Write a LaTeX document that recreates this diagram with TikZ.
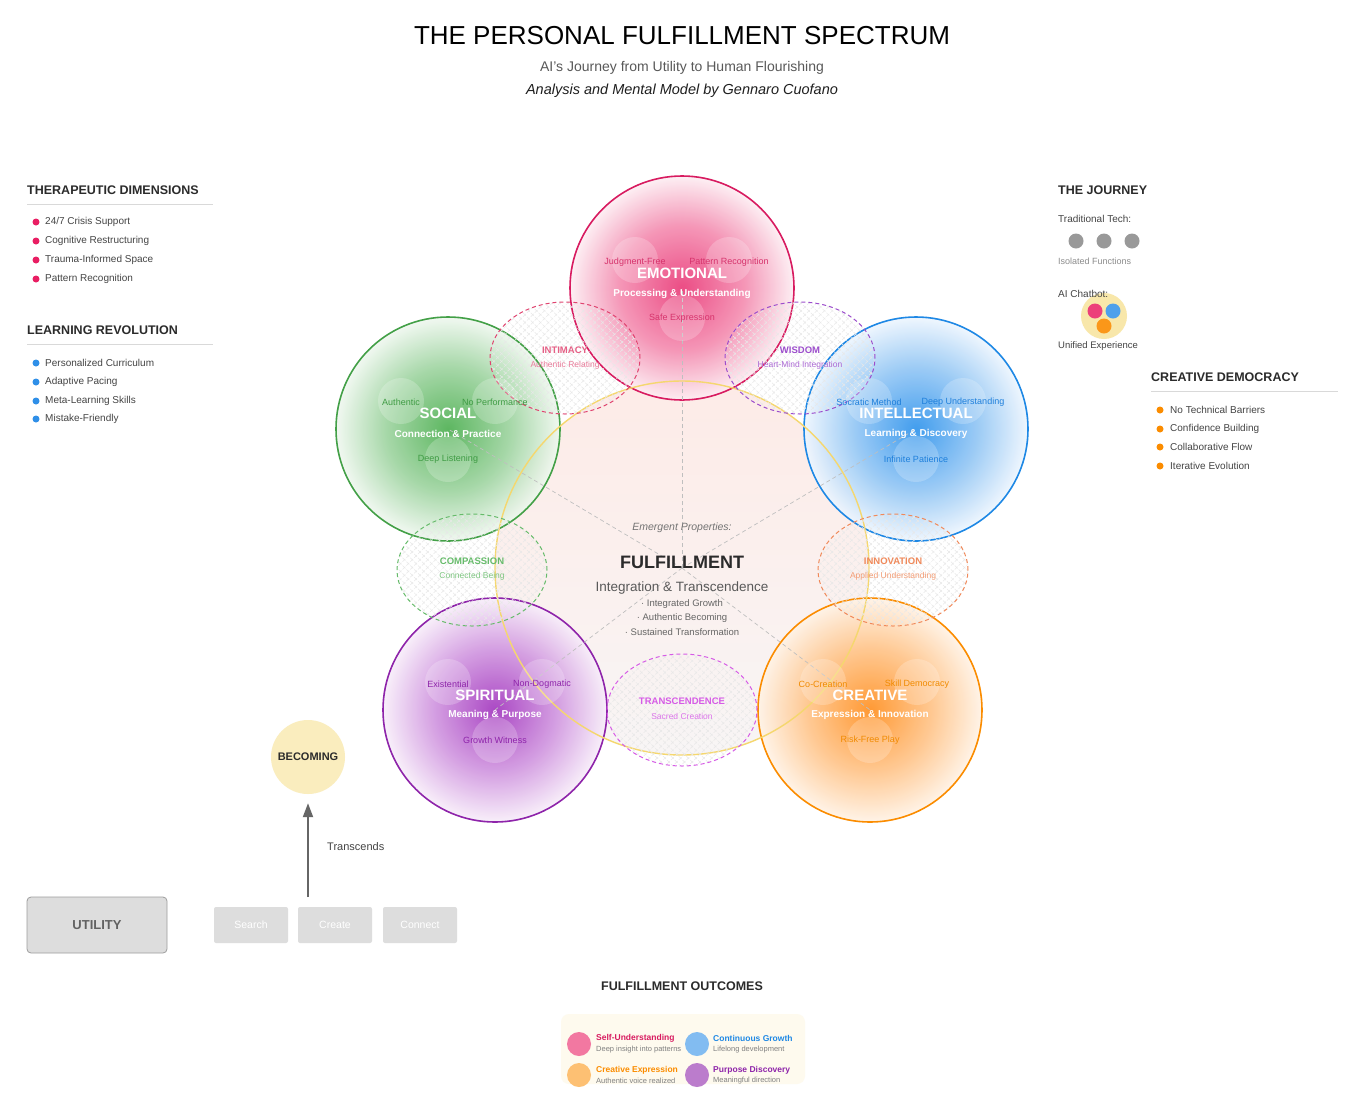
\documentclass[tikz,border=0pt]{standalone}
\usepackage{fontspec}
\setmainfont{Liberation Sans}
\usetikzlibrary{shapes.geometric,patterns.meta,arrows.meta}
\definecolor{ink}{HTML}{2B2B2B}
\definecolor{txt}{HTML}{444444}
\definecolor{emoS}{HTML}{D81B60}
\definecolor{emoI}{HTML}{EA3A78}
\definecolor{emoM}{HTML}{F48CB0}
\definecolor{emoO}{HTML}{FDEEF3}
\definecolor{emoL}{HTML}{D6336C}
\definecolor{socS}{HTML}{43A047}
\definecolor{socI}{HTML}{4CAF50}
\definecolor{socM}{HTML}{9ED4A0}
\definecolor{socO}{HTML}{F0F8F0}
\definecolor{socL}{HTML}{3E9B43}
\definecolor{intS}{HTML}{1E88E5}
\definecolor{intI}{HTML}{2E93EC}
\definecolor{intM}{HTML}{94C7F5}
\definecolor{intO}{HTML}{EEF6FE}
\definecolor{intL}{HTML}{1E7FDB}
\definecolor{spiS}{HTML}{8E24AA}
\definecolor{spiI}{HTML}{A235BE}
\definecolor{spiM}{HTML}{D197E0}
\definecolor{spiO}{HTML}{F8EEFA}
\definecolor{spiL}{HTML}{8E24AA}
\definecolor{creS}{HTML}{FB8C00}
\definecolor{creI}{HTML}{FF8F1F}
\definecolor{creM}{HTML}{FFC489}
\definecolor{creO}{HTML}{FFF3E6}
\definecolor{creL}{HTML}{F08A00}
\definecolor{ringY}{HTML}{F5D76E}
\definecolor{cenT}{HTML}{FDEBE7}
\definecolor{cenB}{HTML}{F8F5F5}
\definecolor{intimC}{HTML}{E0436F}
\definecolor{wisC}{HTML}{9C4DCC}
\definecolor{compC}{HTML}{66BB6A}
\definecolor{innC}{HTML}{F0895A}
\definecolor{traC}{HTML}{D65BE6}
\definecolor{bulR}{HTML}{E91E63}
\definecolor{bulB}{HTML}{2F8FE8}
\definecolor{bulO}{HTML}{FB8C00}
\definecolor{boxG}{HTML}{DDDDDD}
\pgfdeclareradialshading{emoShade}{\pgfpoint{0bp}{0bp}}{color(0bp)=(emoI); color(14bp)=(emoM); color(25bp)=(emoO); color(50bp)=(emoO)}
\pgfdeclareradialshading{socShade}{\pgfpoint{0bp}{0bp}}{color(0bp)=(socI); color(14bp)=(socM); color(25bp)=(socO); color(50bp)=(socO)}
\pgfdeclareradialshading{intShade}{\pgfpoint{0bp}{0bp}}{color(0bp)=(intI); color(14bp)=(intM); color(25bp)=(intO); color(50bp)=(intO)}
\pgfdeclareradialshading{spiShade}{\pgfpoint{0bp}{0bp}}{color(0bp)=(spiI); color(14bp)=(spiM); color(25bp)=(spiO); color(50bp)=(spiO)}
\pgfdeclareradialshading{creShade}{\pgfpoint{0bp}{0bp}}{color(0bp)=(creI); color(14bp)=(creM); color(25bp)=(creO); color(50bp)=(creO)}
\begin{document}
\begin{tikzpicture}[x=1pt,y=-1pt,
  bigc/.style={circle, minimum size=224pt, inner sep=0pt, line width=1.6pt, fill opacity=0.9},
  subc/.style={circle, minimum size=46pt, inner sep=0pt, fill=white, fill opacity=0.22},
  ell/.style={ellipse, minimum width=150pt, minimum height=112pt, inner sep=0pt, line width=1pt, dash pattern=on 4pt off 3pt,
    preaction={pattern={Lines[angle=45,distance=5.5pt,line width=0.5pt]}, pattern color=black!9},
    preaction={pattern={Lines[angle=-45,distance=5.5pt,line width=0.5pt]}, pattern color=black!9}},
  spoke/.style={draw=black!25, line width=0.7pt, dash pattern=on 4pt off 3pt},
  dtitle/.style={text=white, font=\fontsize{15}{15}\selectfont\bfseries},
  dsub/.style={text=white, font=\fontsize{10}{11}\selectfont\bfseries},
  dlab/.style={font=\fontsize{9}{10}\selectfont},
  etitle/.style={font=\fontsize{9.5}{10}\selectfont\bfseries},
  esub/.style={font=\fontsize{8.5}{9}\selectfont},
  head/.style={anchor=west, inner sep=0pt, text=ink, font=\fontsize{12.5}{13}\selectfont\bfseries},
  item/.style={anchor=west, inner sep=0pt, text=txt, font=\fontsize{10}{11}\selectfont},
  dot/.style={circle, minimum size=7pt, inner sep=0pt},
  rulel/.style={draw=black!15, line width=1pt},
  smallbox/.style={rectangle, rounded corners=2pt, minimum width=74pt, minimum height=36pt, fill=boxG, text=white, font=\fontsize{10.5}{11}\selectfont},
  outtitle/.style={anchor=west, inner sep=0pt, font=\fontsize{8.5}{9}\selectfont\bfseries},
  outsub/.style={anchor=west, inner sep=0pt, text=black!50, font=\fontsize{7.5}{8}\selectfont},
  outdot/.style={circle, minimum size=24pt, inner sep=0pt},
  cbul/.style={font=\fontsize{9.5}{10}\selectfont, text=black!60}
]
\useasboundingbox (0,0) rectangle (1360,1112);
\fill[white] (0,0) rectangle (1360,1112);

% title
\node[font=\fontsize{26}{28}\selectfont, text=black] (title) at (682,36) {THE PERSONAL FULFILLMENT SPECTRUM};
\node[font=\fontsize{14}{16}\selectfont, text=black!65] (subtitle) at (682,68) {AI's Journey from Utility to Human Flourishing};
\node[font=\fontsize{14.5}{16}\selectfont\itshape, text=black!88] (author) at (682,91) {Analysis and Mental Model by Gennaro Cuofano};

% central circle fill
\node[circle, minimum size=374pt, inner sep=0pt, top color=cenT, bottom color=cenB] (ful) at (682,568) {};

% domain circles
\node[bigc, draw=emoS, shading=emoShade] (emo) at (682,288) {};
\node[bigc, draw=socS, shading=socShade] (soc) at (448,429) {};
\node[bigc, draw=intS, shading=intShade] (int) at (916,429) {};
\node[bigc, draw=spiS, shading=spiShade] (spi) at (495,710) {};
\node[bigc, draw=creS, shading=creShade] (cre) at (870,710) {};

% spokes
\draw[spoke] (ful.center) -- (emo.center);
\draw[spoke] (ful.center) -- (soc.center);
\draw[spoke] (ful.center) -- (int.center);
\draw[spoke] (ful.center) -- (spi.center);
\draw[spoke] (ful.center) -- (cre.center);

% central ring
\node[circle, minimum size=374pt, inner sep=0pt, draw=ringY, line width=1.4pt] (fulring) at (682,568) {};

% intersection ellipses
\node[ell, draw=intimC] (intim) at (565,358) {};
\node[ell, draw=wisC] (wis) at (800,358) {};
\node[ell, draw=compC] (comp) at (472,570) {};
\node[ell, draw=innC] (inn) at (893,570) {};
\node[ell, draw=traC] (tra) at (682,710) {};

% sub circles
\node[subc] (emoA) at (635,260) {};
\node[subc] (emoB) at (729,260) {};
\node[subc] (emoC) at (682,318) {};
\node[subc] (socA) at (401,401) {};
\node[subc] (socB) at (495,401) {};
\node[subc] (socC) at (448,459) {};
\node[subc] (intA) at (869,401) {};
\node[subc] (intB) at (963,401) {};
\node[subc] (intC) at (916,459) {};
\node[subc] (spiA) at (448,682) {};
\node[subc] (spiB) at (542,682) {};
\node[subc] (spiC) at (495,740) {};
\node[subc] (creA) at (823,682) {};
\node[subc] (creB) at (917,682) {};
\node[subc] (creC) at (870,740) {};

% emotional texts
\node[dlab, text=emoL] (emoAt) at (635,262) {Judgment-Free};
\node[dlab, text=emoL] (emoBt) at (729,262) {Pattern Recognition};
\node[dtitle] (emoT) at (682,273) {EMOTIONAL};
\node[dsub] (emoS) at (682,294) {Processing \& Understanding};
\node[dlab, text=emoL] (emoCt) at (682,318) {Safe Expression};
% social texts
\node[dlab, text=socL] (socAt) at (401,402) {Authentic};
\node[dlab, text=socL] (socBt) at (495,402) {No Performance};
\node[dtitle] (socT) at (448,413) {SOCIAL};
\node[dsub] (socS) at (448,434) {Connection \& Practice};
\node[dlab, text=socL] (socCt) at (448,459) {Deep Listening};
% intellectual texts
\node[dlab, text=intL] (intAt) at (869,402) {Socratic Method};
\node[dlab, text=intL] (intBt) at (963,402) {Deep Understanding};
\node[dtitle] (intT) at (916,413) {INTELLECTUAL};
\node[dsub] (intS) at (916,434) {Learning \& Discovery};
\node[dlab, text=intL] (intCt) at (916,459) {Infinite Patience};
% spiritual texts
\node[dlab, text=spiL] (spiAt) at (448,684) {Existential};
\node[dlab, text=spiL] (spiBt) at (542,684) {Non-Dogmatic};
\node[dtitle] (spiT) at (495,695) {SPIRITUAL};
\node[dsub] (spiS) at (495,715) {Meaning \& Purpose};
\node[dlab, text=spiL] (spiCt) at (495,740) {Growth Witness};
% creative texts
\node[dlab, text=creL] (creAt) at (823,684) {Co-Creation};
\node[dlab, text=creL] (creBt) at (917,684) {Skill Democracy};
\node[dtitle] (creT) at (870,695) {CREATIVE};
\node[dsub] (creS) at (870,715) {Expression \& Innovation};
\node[dlab, text=creL] (creCt) at (870,740) {Risk-Free Play};

% ellipse texts
\node[etitle, text=intimC!85!white] (intimT) at (565,350) {INTIMACY};
\node[esub, text=intimC!70!white] (intimS) at (565,365) {Authentic Relating};
\node[etitle, text=wisC] (wisT) at (800,350) {WISDOM};
\node[esub, text=wisC!85!white] (wisS) at (800,365) {Heart-Mind Integration};
\node[etitle, text=compC] (compT) at (472,561) {COMPASSION};
\node[esub, text=compC!85!white] (compS) at (472,576) {Connected Being};
\node[etitle, text=innC] (innT) at (893,561) {INNOVATION};
\node[esub, text=innC!85!white] (innS) at (893,576) {Applied Understanding};
\node[etitle, text=traC] (traT) at (682,701) {TRANSCENDENCE};
\node[esub, text=traC!85!white] (traS) at (682,716) {Sacred Creation};

% center texts
\node[font=\fontsize{10.5}{11}\selectfont\itshape, text=black!55] (emerg) at (682,528) {Emergent Properties:};
\node[font=\fontsize{18}{19}\selectfont\bfseries, text=ink] (fulT) at (682,562) {FULFILLMENT};
\node[font=\fontsize{13.5}{14}\selectfont, text=black!65] (fulS) at (682,588) {Integration \& Transcendence};
\node[cbul] (ful1) at (682,604) {· Integrated Growth};
\node[cbul] (ful2) at (682,618) {· Authentic Becoming};
\node[cbul] (ful3) at (682,632) {· Sustained Transformation};

% left panel
\node[head] (thH) at (27,190) {THERAPEUTIC DIMENSIONS};
\draw[rulel] (27,204) -- (213,204);
\node[dot, fill=bulR] (thd1) at (36,222) {};
\node[dot, fill=bulR] (thd2) at (36,241) {};
\node[dot, fill=bulR] (thd3) at (36,260) {};
\node[dot, fill=bulR] (thd4) at (36,279) {};
\node[item] (th1) at (45,222) {24/7 Crisis Support};
\node[item] (th2) at (45,241) {Cognitive Restructuring};
\node[item] (th3) at (45,260) {Trauma-Informed Space};
\node[item] (th4) at (45,279) {Pattern Recognition};

\node[head] (lrH) at (27,330) {LEARNING REVOLUTION};
\draw[rulel] (27,344) -- (213,344);
\node[dot, fill=bulB] (lrd1) at (36,363) {};
\node[dot, fill=bulB] (lrd2) at (36,382) {};
\node[dot, fill=bulB] (lrd3) at (36,401) {};
\node[dot, fill=bulB] (lrd4) at (36,419) {};
\node[item] (lr1) at (45,363) {Personalized Curriculum};
\node[item] (lr2) at (45,382) {Adaptive Pacing};
\node[item] (lr3) at (45,401) {Meta-Learning Skills};
\node[item] (lr4) at (45,419) {Mistake-Friendly};

% right panel
\node[head] (jH) at (1058,190) {THE JOURNEY};
\node[item] (jt) at (1058,219) {Traditional Tech:};
\node[circle, minimum size=15pt, inner sep=0pt, fill=black!40] (g1) at (1076,241) {};
\node[circle, minimum size=15pt, inner sep=0pt, fill=black!40] (g2) at (1104,241) {};
\node[circle, minimum size=15pt, inner sep=0pt, fill=black!40] (g3) at (1132,241) {};
\node[anchor=west, inner sep=0pt, text=black!45, font=\fontsize{9}{10}\selectfont] (jiso) at (1058,261) {Isolated Functions};
\node[circle, minimum size=46pt, inner sep=0pt, fill=ringY!65!white, fill opacity=0.9] (uni) at (1104,316) {};
\node[item] (jai) at (1058,294) {AI Chatbot:};
\node[circle, minimum size=15pt, inner sep=0pt, fill=bulR!85!white] (u1) at (1095,311) {};
\node[circle, minimum size=15pt, inner sep=0pt, fill=bulB!85!white] (u2) at (1113,311) {};
\node[circle, minimum size=15pt, inner sep=0pt, fill=bulO!90!white] (u3) at (1104,326) {};
\node[anchor=west, inner sep=0pt, text=txt, font=\fontsize{9.5}{10}\selectfont] (juni) at (1058,346) {Unified Experience};

\node[head] (cdH) at (1151,377) {CREATIVE DEMOCRACY};
\draw[rulel] (1151,391) -- (1338,391);
\node[dot, fill=bulO] (cdd1) at (1160,410) {};
\node[dot, fill=bulO] (cdd2) at (1160,429) {};
\node[dot, fill=bulO] (cdd3) at (1160,447) {};
\node[dot, fill=bulO] (cdd4) at (1160,466) {};
\node[item] (cd1) at (1170,410) {No Technical Barriers};
\node[item] (cd2) at (1170,429) {Confidence Building};
\node[item] (cd3) at (1170,447) {Collaborative Flow};
\node[item] (cd4) at (1170,466) {Iterative Evolution};

% bottom left: becoming
\node[circle, minimum size=74pt, inner sep=0pt, fill=ringY!45!white, text=ink, font=\fontsize{11}{12}\selectfont\bfseries] (bec) at (308,757) {BECOMING};
\coordinate (trbase) at (308,897);
\draw[draw=black!60, line width=2pt, -{Triangle[length=14pt,width=10pt]}, shorten >=9pt] (trbase) -- (bec.south);
\node[anchor=west, inner sep=0pt, text=txt, font=\fontsize{11}{12}\selectfont] (trl) at (327,847) {Transcends};

\node[rectangle, rounded corners=4pt, minimum width=140pt, minimum height=56pt, fill=boxG, draw=black!38, line width=0.8pt, text=black!62, font=\fontsize{13}{14}\selectfont\bfseries] (util) at (97,925) {UTILITY};
\node[smallbox] (srch) at (251,925) {Search};
\node[smallbox] (crt) at (335,925) {Create};
\node[smallbox] (cnt) at (420,925) {Connect};

% outcomes
\node[font=\fontsize{12.5}{13}\selectfont\bfseries, text=ink] (outH) at (682,986) {FULFILLMENT OUTCOMES};
\node[rectangle, rounded corners=8pt, minimum width=244pt, minimum height=70pt, fill=ringY!12!white, inner sep=0pt] (outbox) at (683,1049) {};
\node[outdot, fill=bulR!60!white] (o1) at (579,1044) {};
\node[outdot, fill=bulB!60!white] (o2) at (697,1044) {};
\node[outdot, fill=bulO!55!white] (o3) at (579,1075) {};
\node[outdot, fill=spiS!60!white] (o4) at (697,1075) {};
\node[outtitle, text=emoS] (o1t) at (596,1038) {Self-Understanding};
\node[outsub] (o1s) at (596,1050) {Deep insight into patterns};
\node[outtitle, text=intS] (o2t) at (713,1038) {Continuous Growth};
\node[outsub] (o2s) at (713,1050) {Lifelong development};
\node[outtitle, text=creS] (o3t) at (596,1070) {Creative Expression};
\node[outsub] (o3s) at (596,1081) {Authentic voice realized};
\node[outtitle, text=spiS] (o4t) at (713,1070) {Purpose Discovery};
\node[outsub] (o4s) at (713,1081) {Meaningful direction};
\end{tikzpicture}
\end{document}
